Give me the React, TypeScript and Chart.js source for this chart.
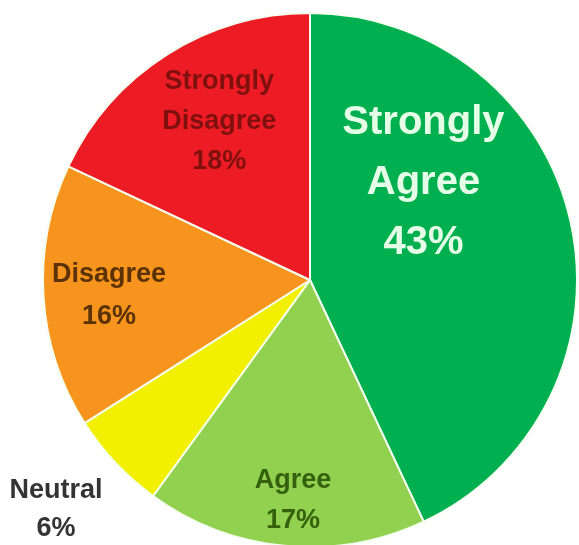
import React, { useEffect, useRef } from "react";
import { Chart, registerables } from "chart.js";

Chart.register(...registerables);

// ---- data ----
const categories = ["Strongly Agree", "Agree", "Neutral", "Disagree", "Strongly Disagree"];
const percentValues = [43, 17, 6, 16, 18];
const sliceColors = ["#00B050", "#92D050", "#F2F000", "#F7941D", "#ED1C24"];

// ---- label layout (offsets of each label block centre, in pie radii) ----
const labelOffsets: [number, number][] = [
  [0.425, -0.364],
  [-0.064, 0.825],
  [-0.951, 0.859],
  [-0.753, 0.06],
  [-0.34, -0.592],
];
const labelColors = ["#E4FFE6", "#35600E", "#333333", "#5A3205", "#7E1010"];
const labelFontSizes = [40, 27, 27, 27, 27];
const labelLineHeights = [60, 40, 38, 42, 40];

const FONT = '"Liberation Sans", Arial, sans-serif';

const labelPlugin = {
  id: "sliceLabels",
  afterDatasetsDraw(chart: any) {
    const meta = chart.getDatasetMeta(0);
    if (!meta || !meta.data.length) return;
    const ctx = chart.ctx as CanvasRenderingContext2D;
    const first = meta.data[0] as any;
    const { x, y, outerRadius } = first.getProps(["x", "y", "outerRadius"], true);
    ctx.save();
    ctx.textAlign = "center";
    ctx.textBaseline = "middle";
    meta.data.forEach((_arc: any, i: number) => {
      const [fx, fy] = labelOffsets[i];
      const cx = x + fx * outerRadius;
      const cy = y + fy * outerRadius;
      const lines = categories[i].split(" ").concat(`${percentValues[i]}%`);
      const lh = labelLineHeights[i];
      ctx.font = `bold ${labelFontSizes[i]}px ${FONT}`;
      ctx.fillStyle = labelColors[i];
      const startY = cy - ((lines.length - 1) * lh) / 2;
      lines.forEach((ln, k) => {
        ctx.fillText(ln, cx, startY + k * lh);
      });
    });
    ctx.restore();
  },
};

export default function App() {
  const canvasRef = useRef<HTMLCanvasElement | null>(null);

  useEffect(() => {
    const canvas = canvasRef.current;
    if (!canvas) return;
    const chart = new Chart(canvas, {
      type: "pie",
      data: {
        labels: categories,
        datasets: [
          {
            data: percentValues,
            backgroundColor: sliceColors,
            borderColor: "#F4FFF0",
            borderWidth: 2,
          },
        ],
      },
      options: {
        responsive: false,
        animation: false,
        layout: { padding: { left: 42, right: 1, top: 12, bottom: 12 } },
        plugins: {
          legend: { display: false },
          tooltip: { enabled: false },
          title: { display: false },
        },
      },
      plugins: [labelPlugin],
    });
    return () => chart.destroy();
  }, []);

  return (
    <div
      style={{
        position: "fixed",
        left: 0,
        top: 0,
        width: 579,
        height: 545,
        overflow: "hidden",
        background: "#ffffff",
      }}
    >
      <canvas
        ref={canvasRef}
        width={579}
        height={560}
        style={{ position: "absolute", left: 0, top: 0, width: 579, height: 560 }}
      />
    </div>
  );
}
